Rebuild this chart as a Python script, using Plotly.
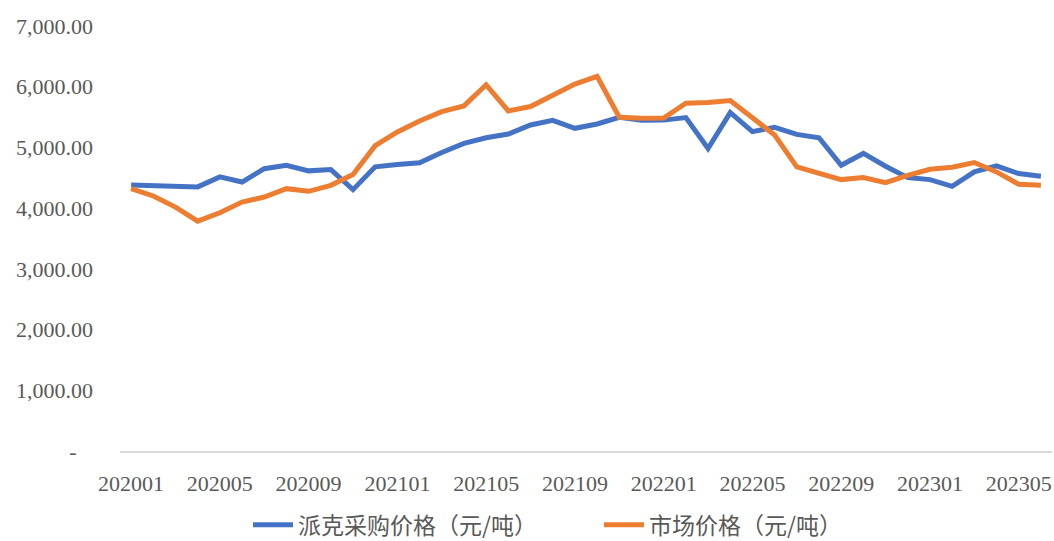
import plotly.graph_objects as go

months = [f"{y}{m:02d}" for y in (2020, 2021, 2022, 2023) for m in range(1, 13)][:42]

pike_price = [4380, 4370, 4360, 4350, 4515, 4430, 4650, 4707, 4614, 4636,
              4305, 4680, 4718, 4746, 4917, 5066, 5159, 5220, 5370, 5447,
              5315, 5386, 5497, 5447, 5450, 5492, 4983, 5574, 5260, 5331,
              5215, 5159, 4707, 4901, 4691, 4503, 4470, 4360, 4597, 4697,
              4570, 4525]
market_price = [4321, 4200, 4017, 3785, 3924, 4100, 4183, 4321, 4277, 4376,
                4553, 5028, 5255, 5436, 5590, 5684, 6032, 5601, 5673, 5867,
                6043, 6170, 5497, 5480, 5485, 5728, 5740, 5773, 5480, 5204,
                4680, 4570, 4470, 4503, 4420, 4541, 4641, 4675, 4752, 4597,
                4393, 4376]

series_names = ["派克采购价格（元/吨）", "市场价格（元/吨）"]
y_tickvals = [0, 1000, 2000, 3000, 4000, 5000, 6000, 7000]
y_ticktext = ["-\u00a0\u00a0\u00a0", "1,000.00", "2,000.00", "3,000.00", "4,000.00",
              "5,000.00", "6,000.00", "7,000.00"]
x_tickvals = months[::4]

fig = go.Figure()
fig.add_trace(go.Scatter(x=months, y=pike_price, mode="lines", name=series_names[0],
                         line=dict(color="#4472C4", width=5)))
fig.add_trace(go.Scatter(x=months, y=market_price, mode="lines", name=series_names[1],
                         line=dict(color="#ED7D31", width=5)))

serif = "Liberation Serif, Times New Roman, serif"
fig.update_layout(
    width=1054, height=541,
    margin=dict(l=120, r=2, t=26, b=90, autoexpand=False),
    paper_bgcolor="white", plot_bgcolor="white",
    font=dict(family=serif, size=20, color="#595959"),
    legend=dict(orientation="h", xref="container", x=0.2353, xanchor="left",
                yref="container", y=0.03, yanchor="middle",
                font=dict(family="Noto Sans CJK SC, sans-serif", size=23, color="#595959"),
                entrywidth=296, entrywidthmode="pixels", itemwidth=40),
    showlegend=True,
)
fig.update_xaxes(type="category", tickvals=x_tickvals, ticktext=x_tickvals,
                 range=[-0.5, 41.5],
                 tickfont=dict(family=serif, size=22, color="#595959"),
                 showgrid=False, showline=True, linecolor="#D9D9D9", linewidth=1.5,
                 ticks="", tickangle=0, ticklabelstandoff=12)
fig.update_yaxes(range=[0, 7000], tickvals=y_tickvals, ticktext=y_ticktext,
                 tickfont=dict(family=serif, size=22, color="#595959"),
                 showgrid=False, zeroline=False, showline=False, ticks="",
                 ticklabelstandoff=26)

fig.write_html("out.html", config={"displayModeBar": False},
               post_script="document.body.style.margin='0';document.body.style.padding='0';")
